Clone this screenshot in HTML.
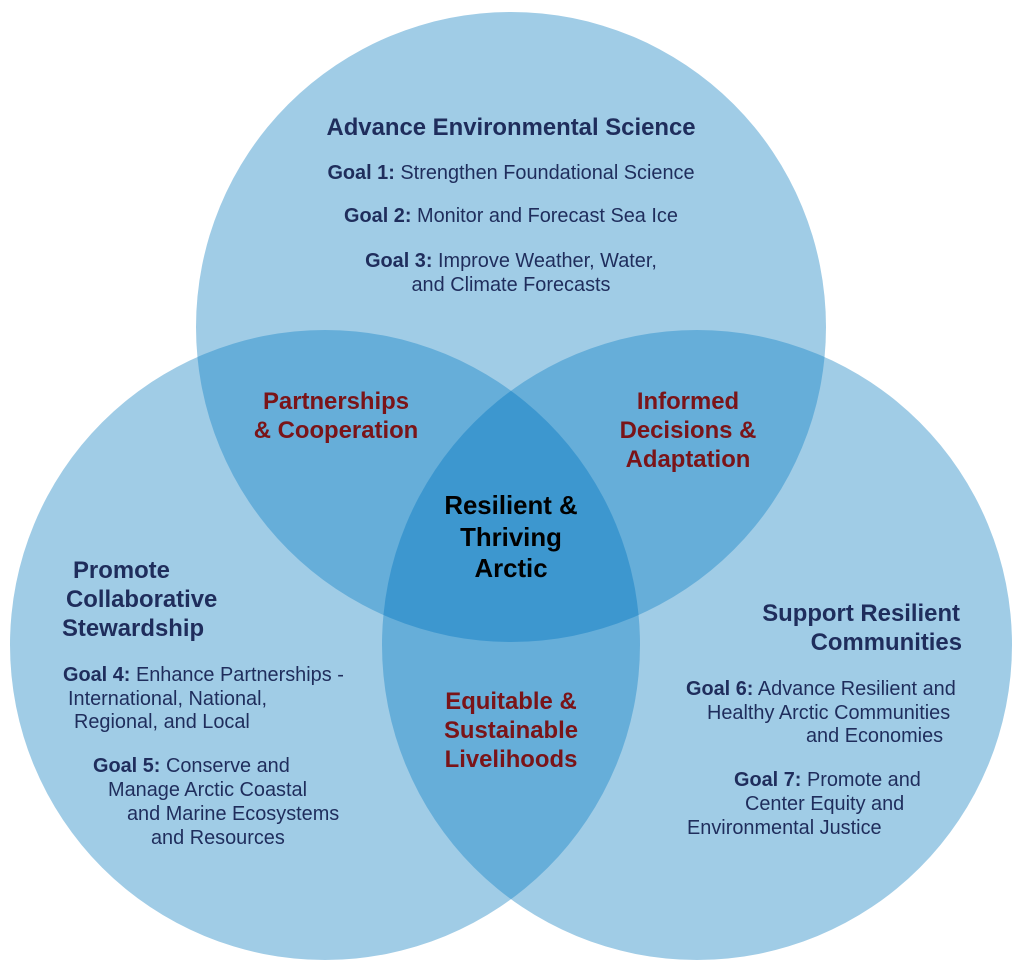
<!DOCTYPE html>
<html><head><meta charset="utf-8"><style>
html,body{margin:0;padding:0;background:#fff;}
svg{display:block;}
text{font-family:"Liberation Sans",Arial,sans-serif;}
.t{font-size:23.9px;font-weight:bold;fill:#1f2d5c;}
.g{font-size:19.9px;fill:#1f2d5c;}
.g tspan.b{font-weight:bold;}
.r{font-size:23.9px;font-weight:bold;fill:#7a1418;}
.c{font-size:25.8px;font-weight:bold;fill:#000;}
</style></head><body>
<svg width="1022" height="971" viewBox="0 0 1022 971" xmlns="http://www.w3.org/2000/svg">
<defs>
<clipPath id="cA"><circle cx="511" cy="327" r="315"/></clipPath>
<clipPath id="cB"><circle cx="325" cy="645" r="315"/></clipPath>
<clipPath id="cC"><circle cx="697" cy="645" r="315"/></clipPath>
</defs>
<circle cx="511" cy="327" r="315" fill="#a0cce6"/>
<circle cx="325" cy="645" r="315" fill="#a0cce6"/>
<circle cx="697" cy="645" r="315" fill="#a0cce6"/>
<circle cx="325" cy="645" r="315" fill="#66aed9" clip-path="url(#cA)"/>
<circle cx="697" cy="645" r="315" fill="#66aed9" clip-path="url(#cA)"/>
<circle cx="697" cy="645" r="315" fill="#66aed9" clip-path="url(#cB)"/>
<g clip-path="url(#cA)"><circle cx="697" cy="645" r="315" fill="#3d97cf" clip-path="url(#cB)"/></g>

<text class="t" x="511" y="135" text-anchor="middle">Advance Environmental Science</text>
<text class="g" x="511" y="179" text-anchor="middle"><tspan class="b">Goal 1:</tspan> Strengthen Foundational Science</text>
<text class="g" x="511" y="222" text-anchor="middle"><tspan class="b">Goal 2:</tspan> Monitor and Forecast Sea Ice</text>
<text class="g" x="511" y="267" text-anchor="middle"><tspan class="b">Goal 3:</tspan> Improve Weather, Water,</text>
<text class="g" x="511" y="291" text-anchor="middle">and Climate Forecasts</text>

<text class="r" x="336" y="409" text-anchor="middle">Partnerships</text>
<text class="r" x="336" y="438" text-anchor="middle">&amp; Cooperation</text>
<text class="r" x="688" y="409" text-anchor="middle">Informed</text>
<text class="r" x="688" y="438" text-anchor="middle">Decisions &amp;</text>
<text class="r" x="688" y="467" text-anchor="middle">Adaptation</text>

<text class="c" x="511" y="514" text-anchor="middle">Resilient &amp;</text>
<text class="c" x="511" y="546" text-anchor="middle">Thriving</text>
<text class="c" x="511" y="577" text-anchor="middle">Arctic</text>

<text class="r" x="511" y="709" text-anchor="middle">Equitable &amp;</text>
<text class="r" x="511" y="738" text-anchor="middle">Sustainable</text>
<text class="r" x="511" y="767" text-anchor="middle">Livelihoods</text>

<text class="t" x="73" y="578">Promote</text>
<text class="t" x="66" y="607">Collaborative</text>
<text class="t" x="62" y="636">Stewardship</text>
<text class="g" x="63" y="681"><tspan class="b">Goal 4:</tspan> Enhance Partnerships -</text>
<text class="g" x="68" y="705">International, National,</text>
<text class="g" x="74" y="728">Regional, and Local</text>
<text class="g" x="93" y="772"><tspan class="b">Goal 5:</tspan> Conserve and</text>
<text class="g" x="108" y="796">Manage Arctic Coastal</text>
<text class="g" x="127" y="820">and Marine Ecosystems</text>
<text class="g" x="151" y="844">and Resources</text>

<text class="t" x="960" y="621" text-anchor="end">Support Resilient</text>
<text class="t" x="962" y="650" text-anchor="end">Communities</text>
<text class="g" x="686" y="695"><tspan class="b">Goal 6:</tspan> Advance Resilient and</text>
<text class="g" x="707" y="719">Healthy Arctic Communities</text>
<text class="g" x="806" y="742">and Economies</text>
<text class="g" x="734" y="786"><tspan class="b">Goal 7:</tspan> Promote and</text>
<text class="g" x="745" y="810">Center Equity and</text>
<text class="g" x="687" y="834">Environmental Justice</text>
</svg>
</body></html>
